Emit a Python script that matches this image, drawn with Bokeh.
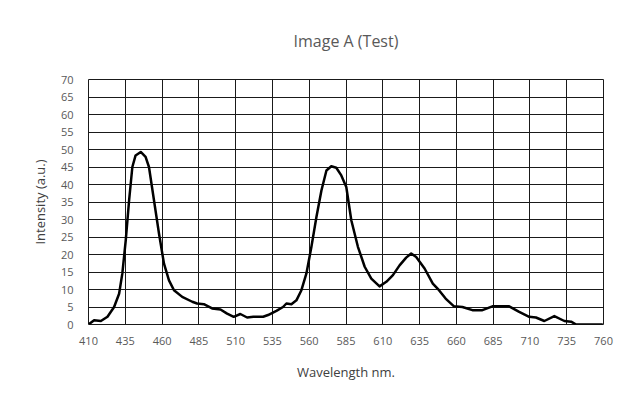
from bokeh.plotting import figure
from bokeh.models import FixedTicker, Range1d
from bokeh.embed import file_html
from bokeh.resources import INLINE

wavelength = [410, 413.8, 418.4, 422.9, 427.4, 430.8, 433, 435.3, 437.6, 439.8, 442, 445.5,
              448.8, 451.1, 454.5, 457.9, 461.3, 464.7, 468.1, 473.7, 480.5, 483.8, 488.4,
              494, 499.7, 504.2, 508.7, 513.2, 517.8, 522, 528.7, 532, 537.7, 542.2, 544.5,
              547.9, 551.3, 554.7, 558.1, 561.5, 564.9, 568.3, 571.7, 575, 578.4, 581.8,
              585.2, 588.6, 593.1, 597.7, 602.2, 607.8, 612.4, 616.9, 621.4, 625.9, 629.3,
              632.7, 638.4, 644, 648.2, 652.7, 658.4, 664.1, 670.9, 677.7, 684.5, 691.4,
              695.9, 702.7, 709.5, 714.1, 719.8, 726.6, 733.4, 738, 741.4, 759.5]
intensity = [0, 1.2, 1.0, 2.2, 5.0, 8.8, 14.6, 24.0, 35.5, 45.0, 48.3, 49.3,
             47.9, 45.0, 35.5, 26.0, 17.4, 12.6, 9.8, 7.9, 6.5, 6.0, 5.8,
             4.6, 4.3, 3.1, 2.2, 3.0, 2.0, 2.2, 2.2, 2.7, 3.9, 5.0, 6.0,
             5.8, 6.9, 9.8, 14.6, 22.2, 30.7, 38.3, 44.0, 45.2, 44.8, 42.6,
             39.3, 29.8, 22.2, 16.5, 13.1, 10.9, 12.2, 14.1, 16.9, 19.1, 20.3,
             19.3, 16.0, 11.7, 9.8, 7.4, 5.2, 5.0, 4.1, 4.1, 5.2, 5.2,
             5.2, 3.6, 2.2, 2.0, 1.0, 2.4, 1.0, 0.8, 0, 0]

x_ticks = list(range(410, 761, 25))
y_ticks = list(range(0, 71, 5))

p = figure(width=624, height=395, output_backend="svg", toolbar_location=None,
           x_range=Range1d(410, 760), y_range=Range1d(0, 70),
           min_border_left=88, min_border_right=21, min_border_top=79, min_border_bottom=71)

p.title.text = "Image A (Test)"
p.title.align = "center"
p.title.text_font = "Open Sans"
p.title.text_font_style = "normal"
p.title.text_font_size = "16px"
p.title.text_color = "#595959"
p.title.standoff = 55

p.line(wavelength, intensity, line_color="black", line_width=2.5, line_join="round")

for ax in (p.xaxis, p.yaxis):
    ax.axis_line_color = None
    ax.major_tick_line_color = None
    ax.minor_tick_line_color = None
    ax.major_label_text_font = "Open Sans"
    ax.major_label_text_font_size = "11px"
    ax.major_label_text_color = "#595959"
    ax.axis_label_text_font = "Open Sans"
    ax.axis_label_text_font_style = "normal"
    ax.axis_label_text_font_size = "13px"
    ax.axis_label_text_color = "#404040"

p.xaxis.ticker = FixedTicker(ticks=x_ticks)
p.yaxis.ticker = FixedTicker(ticks=y_ticks)
p.xaxis.axis_label = "Wavelength nm."
p.yaxis.axis_label = "Intensity (a.u.)"
p.xaxis.major_label_standoff = 6
p.yaxis.major_label_standoff = 9
p.xaxis.axis_label_standoff = 15
p.yaxis.axis_label_standoff = 9

p.xgrid.ticker = FixedTicker(ticks=x_ticks)
p.ygrid.ticker = FixedTicker(ticks=y_ticks)
p.xgrid.grid_line_color = "#1a1a1a"
p.ygrid.grid_line_color = "#1a1a1a"
p.xgrid.grid_line_width = 1
p.ygrid.grid_line_width = 1
p.outline_line_color = "#1a1a1a"
p.outline_line_width = 1
p.background_fill_color = "white"
p.border_fill_color = "white"

open("out.html", "w").write(file_html(p, INLINE))
